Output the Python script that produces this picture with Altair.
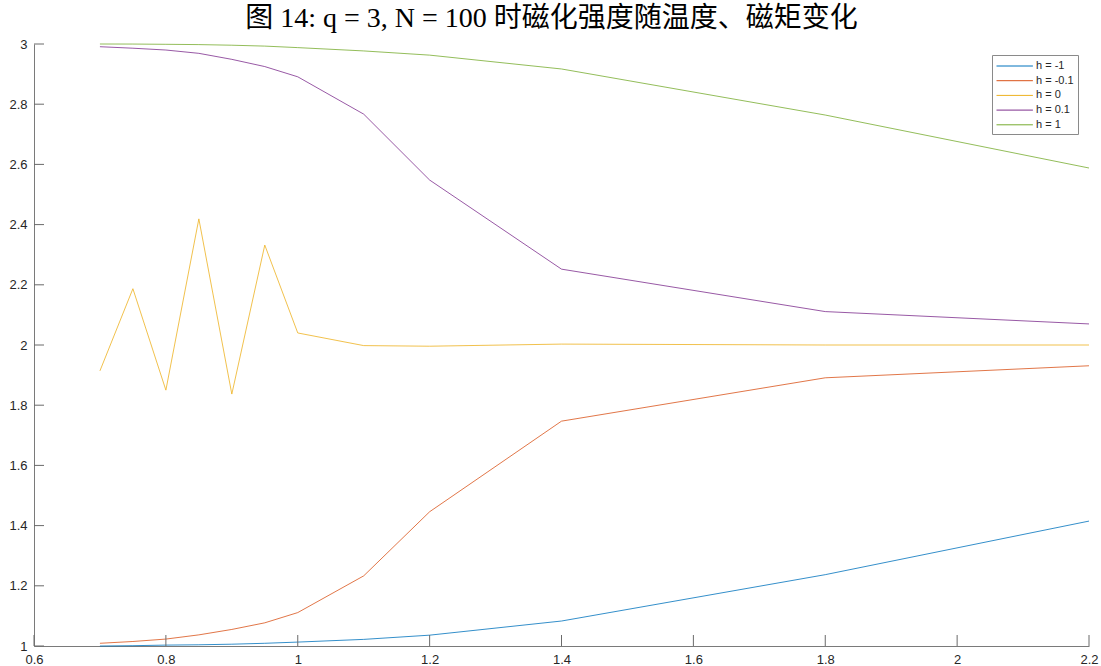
import altair as alt
import pandas as pd

# temperature grid
T = [0.7, 0.75, 0.8, 0.85, 0.9, 0.95, 1.0, 1.1, 1.2, 1.4, 1.8, 2.2]

# magnetisation for each external field h
m_hm1 = [1.000, 1.001, 1.003, 1.004, 1.006, 1.009, 1.013, 1.022, 1.036, 1.083, 1.237, 1.415]
m_hm01 = [1.009, 1.015, 1.023, 1.037, 1.055, 1.077, 1.111, 1.233, 1.446, 1.747, 1.891, 1.931]
m_h0 = [1.914, 2.187, 1.850, 2.419, 1.837, 2.332, 2.040, 1.998, 1.996, 2.003, 2.000, 2.000]
m_hp01 = [2.991, 2.986, 2.980, 2.969, 2.949, 2.925, 2.891, 2.767, 2.548, 2.252, 2.111, 2.070]
m_hp1 = [3.000, 2.9998, 2.999, 2.998, 2.996, 2.993, 2.988, 2.977, 2.963, 2.917, 2.764, 2.588]

series_names = ["h = -1", "h = -0.1", "h = 0", "h = 0.1", "h = 1"]
series_vals = [m_hm1, m_hm01, m_h0, m_hp01, m_hp1]
series_colors = ["#0072BD", "#D95319", "#EDB120", "#7E2F8E", "#77AC30"]

x_ticks = [0.6, 0.8, 1.0, 1.2, 1.4, 1.6, 1.8, 2.0, 2.2]
y_ticks = [1.0, 1.2, 1.4, 1.6, 1.8, 2.0, 2.2, 2.4, 2.6, 2.8, 3.0]

title_text = "图 14: q = 3, N = 100 时磁化强度随温度、磁矩变化"

rows = []
for name, vals in zip(series_names, series_vals):
    for t, m in zip(T, vals):
        rows.append({"T": t, "M": m, "h": name})
df = pd.DataFrame(rows)

W, H = 1055, 602
AXIS_FONT = "Liberation Sans"

x_scale = alt.Scale(domain=[0.6, 2.2], nice=False, zero=False)
y_scale = alt.Scale(domain=[1, 3], nice=False, zero=False)

x_axis = alt.Axis(values=x_ticks, format="~g", tickSize=0, grid=False,
                  domainColor="#7a7a7a", domainWidth=1, labelFont=AXIS_FONT,
                  labelFontSize=13, labelColor="#262626", labelPadding=7,
                  title=None, labelFlush=False)
y_axis = alt.Axis(values=y_ticks, format="~g", tickSize=0, grid=False,
                  domainColor="#7a7a7a", domainWidth=1, labelFont=AXIS_FONT,
                  labelFontSize=13, labelColor="#262626", labelPadding=7,
                  title=None, labelFlush=False)

# long flat legend swatch: starts at the left edge of a 13px symbol box
swatch = "M-1,0L4.6,0"

lines = alt.Chart(df).mark_line(strokeWidth=0.8).encode(
    x=alt.X("T:Q", scale=x_scale, axis=x_axis),
    y=alt.Y("M:Q", scale=y_scale, axis=y_axis),
    color=alt.Color(
        "h:N",
        scale=alt.Scale(domain=series_names, range=series_colors),
        sort=series_names,
        legend=alt.Legend(
            title=None, orient="none", legendX=958, legendY=11,
            symbolType=swatch, symbolSize=169, symbolStrokeWidth=1,
            symbolFillColor="transparent", rowPadding=2.7,
            labelFont=AXIS_FONT, labelFontSize=11, labelColor="#262626",
            strokeColor="#8a8a8a", fillColor="white", padding=4,
            labelOffset=26, offset=0,
        ),
    ),
    order=alt.Order("T:Q"),
)

# inward-pointing tick marks along both axes
xt = alt.Chart(pd.DataFrame({"t": x_ticks})).mark_rule(
    color="#6a6a6a", strokeWidth=1
).encode(x=alt.X("t:Q", scale=x_scale), y=alt.value(H - 11), y2=alt.value(H))

yt = alt.Chart(pd.DataFrame({"t": y_ticks})).mark_rule(
    color="#6a6a6a", strokeWidth=1
).encode(y=alt.Y("t:Q", scale=y_scale), x=alt.value(0), x2=alt.value(10))

chart = alt.layer(lines, xt, yt).properties(
    width=W, height=H,
    title=alt.TitleParams(
        title_text, font="Liberation Serif, Noto Sans CJK SC", fontSize=28,
        fontWeight="normal", color="#000000", anchor="middle", offset=5,
        dx=-10,
    ),
    padding={"left": 34, "top": 44, "right": 12, "bottom": 20},
    autosize=alt.AutoSizeParams(type="none"),
).configure_view(stroke=None)

chart.save("out.html", embed_options={"renderer": "svg", "actions": False})
